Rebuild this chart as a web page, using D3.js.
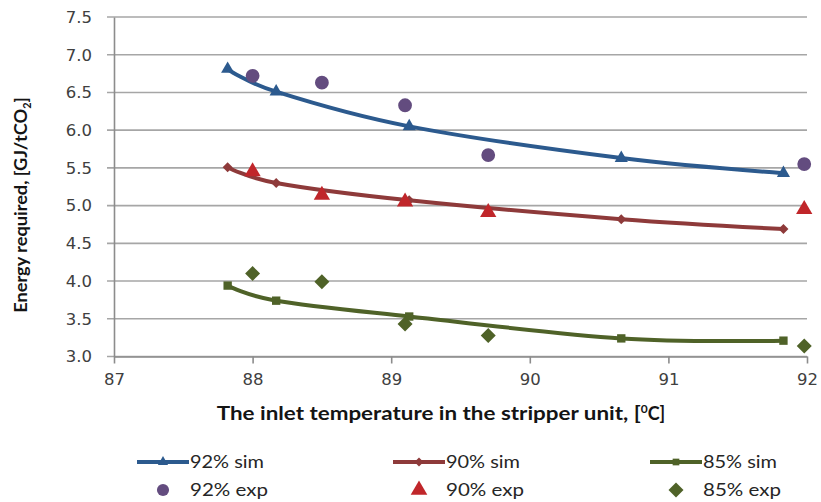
<!DOCTYPE html>
<html>
<head>
<meta charset="utf-8">
<script src="https://cdn.jsdelivr.net/npm/d3@7"></script>
<style>
  html, body { margin: 0; padding: 0; background: #fff; }
  svg { display: block; }
</style>
</head>
<body>
<svg id="chart" width="821" height="502"></svg>
<script>
// Inlet temperature (°C) of the simulated runs and of the experiments
const simTemps = [87.82, 88.17, 89.13, 90.66, 91.83];
const expTemps = [88.0, 88.5, 89.1, 89.7, 91.98];

// Energy required, GJ/tCO2
const sim92 = [6.81, 6.51, 6.05, 5.63, 5.43];
const sim90 = [5.51, 5.30, 5.07, 4.82, 4.69];
const sim85 = [3.94, 3.74, 3.53, 3.24, 3.21];
const exp92 = [6.72, 6.63, 6.33, 5.67, 5.55];
const exp90 = [5.45, 5.14, 5.05, 4.91, 4.95];
const exp85 = [4.10, 3.99, 3.43, 3.28, 3.14];

const xTicks = [87, 88, 89, 90, 91, 92];
const yTicks = [3.0, 3.5, 4.0, 4.5, 5.0, 5.5, 6.0, 6.5, 7.0, 7.5];

const svg = d3.select("#chart");
const x = d3.scaleLinear().domain([87, 92]).range([114, 807]);
const y = d3.scaleLinear().domain([3, 7.5]).range([356.5, 17]);

const gridCol = "#a6a6a6";
const axisCol = "#8c8c8c";
const tickFont = "'DejaVu Sans', Verdana, sans-serif";
const labelFont = "Lato, 'Open Sans', sans-serif";

// horizontal gridlines, extending left as the y ticks
svg.append("g").selectAll("line").data(yTicks).join("line")
  .attr("x1", 107).attr("x2", 807)
  .attr("y1", d => y(d)).attr("y2", d => y(d))
  .attr("stroke", gridCol).attr("stroke-width", 1.6);

// y axis
const yAxis = svg.append("g").attr("transform", "translate(114,0)")
  .call(d3.axisLeft(y).tickValues(yTicks).tickFormat(d3.format(".1f")).tickSize(0).tickPadding(22));
yAxis.select(".domain").attr("stroke", axisCol).attr("stroke-width", 1.6);
yAxis.selectAll("text").attr("font-family", tickFont).attr("font-size", 16.5).attr("fill", "#404040");

// x axis
const xAxis = svg.append("g").attr("transform", `translate(0,${y(3)})`)
  .call(d3.axisBottom(x).tickValues(xTicks).tickFormat(d3.format("d")).tickSize(7).tickSizeOuter(0).tickPadding(10));
xAxis.select(".domain").attr("stroke", axisCol).attr("stroke-width", 1.6);
xAxis.selectAll(".tick line").attr("stroke", axisCol).attr("stroke-width", 1.6);
xAxis.selectAll("text").attr("font-family", tickFont).attr("font-size", 16.5).attr("fill", "#404040");

// axis titles
svg.append("text")
  .attr("transform", "translate(27,205) rotate(-90)")
  .attr("text-anchor", "middle")
  .attr("font-family", labelFont).attr("font-weight", 700).attr("font-size", 16.5)
  .attr("fill", "#141414")
  .call(t => {
    t.append("tspan").attr("textLength", 204).attr("lengthAdjust", "spacingAndGlyphs").text("Energy required, [GJ/tCO");
    t.append("tspan").attr("font-size", 11).attr("dy", 4).text("2");
    t.append("tspan").attr("dy", -4).text("]");
  });

svg.append("text")
  .attr("x", 441).attr("y", 420)
  .attr("text-anchor", "middle")
  .attr("font-family", labelFont).attr("font-weight", 700).attr("font-size", 18)
  .attr("fill", "#141414")
  .call(t => {
    t.append("tspan").attr("textLength", 424).attr("lengthAdjust", "spacingAndGlyphs").text("The inlet temperature in the stripper unit, [");
    t.append("tspan").attr("font-size", 12).attr("dy", -7).text("0");
    t.append("tspan").attr("dy", 7).text("C]");
  });

// marker shapes
const sym = (type, area) => d3.symbol().type(type).size(area)();
const diamond = (w) => `M0,${-w/2}L${w/2},0L0,${w/2}L${-w/2},0Z`;

const series = [
  { name: "92% sim", vals: sim92, color: "#2c5a8e", marker: () => sym(d3.symbolTriangle, 75) },
  { name: "90% sim", vals: sim90, color: "#8e3a3a", marker: () => diamond(10) },
  { name: "85% sim", vals: sim85, color: "#4f6228", marker: () => sym(d3.symbolSquare, 70) }
];
const points = [
  { name: "92% exp", vals: exp92, color: "#634c7f", marker: () => sym(d3.symbolCircle, 150) },
  { name: "90% exp", vals: exp90, color: "#c0262a", marker: () => sym(d3.symbolTriangle, 115) },
  { name: "85% exp", vals: exp85, color: "#4f6228", marker: () => diamond(15) }
];

const line = d3.line().x(d => x(d[0])).y(d => y(d[1])).curve(d3.curveCardinal.tension(0));

series.forEach(s => {
  const pts = simTemps.map((t, i) => [t, s.vals[i]]);
  svg.append("path").datum(pts).attr("d", line)
    .attr("fill", "none").attr("stroke", s.color).attr("stroke-width", 4)
    .attr("stroke-linecap", "round");
  svg.append("g").selectAll("path").data(pts).join("path")
    .attr("transform", d => `translate(${x(d[0])},${y(d[1])})`)
    .attr("d", s.marker()).attr("fill", s.color);
});

points.forEach(p => {
  const pts = expTemps.map((t, i) => [t, p.vals[i]]);
  svg.append("g").selectAll("path").data(pts).join("path")
    .attr("transform", d => `translate(${x(d[0])},${y(d[1])})`)
    .attr("d", p.marker()).attr("fill", p.color);
});

// legend
const legX = [137, 393, 650];
series.forEach((s, i) => {
  const g = svg.append("g").attr("transform", `translate(${legX[i]},462)`);
  g.append("line").attr("x1", 0).attr("x2", 52).attr("y1", 0).attr("y2", 0)
    .attr("stroke", s.color).attr("stroke-width", 4);
  g.append("path").attr("transform", "translate(26,0)")
    .attr("d", i === 1 ? diamond(9) : sym(i === 0 ? d3.symbolTriangle : d3.symbolSquare, 45))
    .attr("fill", s.color);
  g.append("text").attr("x", 53).attr("y", 6)
    .attr("font-family", labelFont).attr("font-size", 18).attr("fill", "#262626")
    .attr("textLength", 74).attr("lengthAdjust", "spacingAndGlyphs")
    .text(s.name);
});
points.forEach((p, i) => {
  const g = svg.append("g").attr("transform", `translate(${legX[i]},490)`);
  g.append("path").attr("transform", "translate(26,0)")
    .attr("d", i === 0 ? sym(d3.symbolCircle, 115) : i === 1 ? sym(d3.symbolTriangle, 120) : diamond(15))
    .attr("fill", p.color);
  g.append("text").attr("x", 53).attr("y", 6)
    .attr("font-family", labelFont).attr("font-size", 18).attr("fill", "#262626")
    .attr("textLength", 78).attr("lengthAdjust", "spacingAndGlyphs")
    .text(p.name);
});
</script>
</body>
</html>
